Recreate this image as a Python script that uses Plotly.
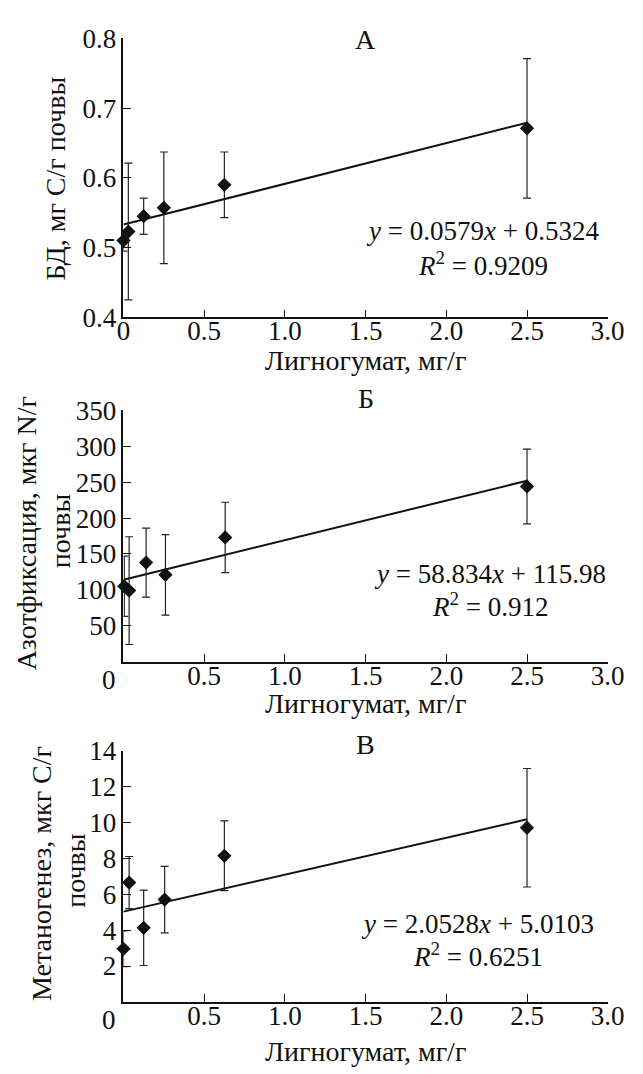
import plotly.graph_objects as go

W, H = 643, 1074

# ---------------- data ----------------
x_ticks = [0, 0.5, 1.0, 1.5, 2.0, 2.5, 3.0]
x_ticklabels_A = ["0", "0.5", "1.0", "1.5", "2.0", "2.5", "3.0"]
x_ticklabels_BC = ["", "0.5", "1.0", "1.5", "2.0", "2.5", "3.0"]

# Panel А: БД
xA = [0, 0.03, 0.125, 0.25, 0.625, 2.5]
yA = [0.51, 0.523, 0.545, 0.557, 0.59, 0.671]
eA = [0.015, 0.098, 0.026, 0.08, 0.047, 0.1]
lineA = [0.533, 0.679]          # trend line ends as drawn (x = 0 and 2.5)
yticksA = [0.4, 0.5, 0.6, 0.7, 0.8]
ylabelsA = ["0.4", "0.5", "0.6", "0.7", "0.8"]

# Panel Б: Азотфиксация
xB = [0.005, 0.035, 0.14, 0.26, 0.63, 2.5]
yB = [105, 99, 138, 121, 173, 244]
eB = [42, 75, 48, 56, 49, 52]
lineB = [114, 252]
yticksB = [50, 100, 150, 200, 250, 300, 350]

# Panel В: Метаногенез
xC = [0, 0.035, 0.125, 0.255, 0.625, 2.5]
yC = [2.96, 6.65, 4.13, 5.70, 8.14, 9.70]
eC = [1.0, 1.45, 2.1, 1.85, 1.94, 3.3]
lineC = [5.03, 10.17]
yticksC = [2, 4, 6, 8, 10, 12, 14]

line_x = [0, 2.5]

FONT = "Liberation Serif"
TICK_SIZE = 27
TEXT_SIZE = 28
EQ_SIZE = 27

def px_x(p):
    return p / W

def px_y(p):
    return 1 - p / H

panels = [
    dict(x=xA, y=yA, e=eA, line=lineA, yr=[0.4, 0.8], yt=yticksA, yl=ylabelsA,
         top=24, bottom=311, xl=x_ticklabels_A, letter="А", letter_y=25,
         ytitles=[("БД, мг С/г почвы", 50, 168)],
         xtitle_y=355,
         eq1="<i>y</i> = 0.0579<i>x</i> + 0.5324", eq2="<i>R</i><sup>2</sup> = 0.9209",
         eq_x=494, eq1_y=222, eq2_y=256),
    dict(x=xB, y=yB, e=eB, line=lineB, yr=[0, 350], yt=yticksB, yl=[str(v) for v in yticksB],
         top=406.7, bottom=665.3, xl=x_ticklabels_BC, letter="Б", letter_y=395,
         ytitles=[("Азотфиксация, мкг N/г", 20, 533), ("почвы", 55, 530)],
         xtitle_y=708,
         eq1="<i>y</i> = 58.834<i>x</i> + 115.98", eq2="<i>R</i><sup>2</sup> = 0.912",
         eq_x=502, eq1_y=575, eq2_y=607),
    dict(x=xC, y=yC, e=eC, line=lineC, yr=[0, 14], yt=yticksC, yl=[str(v) for v in yticksC],
         top=756.7, bottom=1015.3, xl=x_ticklabels_BC, letter="В", letter_y=750,
         ytitles=[("Метаногенез, мкг С/г", 36, 883), ("почвы", 71, 880)],
         xtitle_y=1066,
         eq1="<i>y</i> = 2.0528<i>x</i> + 5.0103", eq2="<i>R</i><sup>2</sup> = 0.6251",
         eq_x=489, eq1_y=935, eq2_y=967),
]

LEFT, RIGHT = 121, 624

fig = go.Figure()
annotations = []
layout_axes = {}

for i, p in enumerate(panels):
    n = i + 1
    xa = "x" if n == 1 else f"x{n}"
    ya = "y" if n == 1 else f"y{n}"
    xkey = "xaxis" if n == 1 else f"xaxis{n}"
    ykey = "yaxis" if n == 1 else f"yaxis{n}"

    fig.add_trace(go.Scatter(
        x=line_x, y=p["line"], mode="lines",
        line=dict(color="#111111", width=2), xaxis=xa, yaxis=ya,
        showlegend=False, hoverinfo="skip", cliponaxis=False))
    fig.add_trace(go.Scatter(
        x=p["x"], y=p["y"], mode="markers",
        marker=dict(symbol="diamond", size=11, color="#111111"),
        error_y=dict(type="data", array=p["e"], visible=True,
                     color="#222222", thickness=1.2, width=4),
        xaxis=xa, yaxis=ya, showlegend=False, cliponaxis=False))

    layout_axes[xkey] = dict(
        domain=[px_x(LEFT), px_x(RIGHT)], anchor=ya, range=[0, 3.0],
        tickmode="array", tickvals=x_ticks, ticktext=p["xl"],
        ticks="inside", ticklen=8, tickwidth=1.2, tickcolor="#111111",
        ticklabelstandoff=-11,
        showline=True, linecolor="#111111", linewidth=1.5, mirror=False,
        showgrid=False, zeroline=False,
        tickfont=dict(family=FONT, size=TICK_SIZE, color="#111111"))
    layout_axes[ykey] = dict(
        domain=[px_y(p["bottom"]), px_y(p["top"])], anchor=xa, range=p["yr"],
        tickmode="array", tickvals=p["yt"], ticktext=p["yl"],
        ticks="inside", ticklen=8, tickwidth=1.2, tickcolor="#111111",
        showline=True, linecolor="#111111", linewidth=1.5, mirror=False,
        showgrid=False, zeroline=False,
        tickfont=dict(family=FONT, size=TICK_SIZE, color="#111111"))

    tf = dict(family=FONT, size=TEXT_SIZE, color="#111111")
    ef = dict(family=FONT, size=EQ_SIZE, color="#111111")
    annotations.append(dict(text=p["letter"], x=px_x((LEFT + RIGHT) / 2), y=px_y(p["letter_y"]),
                            xref="paper", yref="paper", showarrow=False, font=tf,
                            xanchor="center", yanchor="middle"))
    annotations.append(dict(text="Лигногумат, мг/г", x=px_x((LEFT + RIGHT) / 2), y=px_y(p["xtitle_y"]),
                            xref="paper", yref="paper", showarrow=False, font=tf,
                            xanchor="center", yanchor="middle"))
    for txt, tx, ty in p["ytitles"]:
        annotations.append(dict(text=txt, x=px_x(tx), y=px_y(ty),
                                xref="paper", yref="paper", showarrow=False, font=tf,
                                textangle=-90, xanchor="center", yanchor="middle"))
    annotations.append(dict(text=p["eq1"], x=px_x(p["eq_x"]), y=px_y(p["eq1_y"]),
                            xref="paper", yref="paper", showarrow=False, font=ef,
                            xanchor="center", yanchor="middle"))
    annotations.append(dict(text=p["eq2"], x=px_x(p["eq_x"]), y=px_y(p["eq2_y"]),
                            xref="paper", yref="paper", showarrow=False, font=ef,
                            xanchor="center", yanchor="middle"))
    if n > 1:
        annotations.append(dict(text="0", x=px_x(106), y=px_y(p["bottom"] + 19),
                                xref="paper", yref="paper", showarrow=False,
                                font=dict(family=FONT, size=TICK_SIZE, color="#111111"),
                                xanchor="center", yanchor="middle"))

fig.update_layout(
    width=W, height=H, margin=dict(l=0, r=0, t=0, b=0),
    paper_bgcolor="white", plot_bgcolor="white",
    annotations=annotations, **layout_axes)

fig.write_html("out.html")
